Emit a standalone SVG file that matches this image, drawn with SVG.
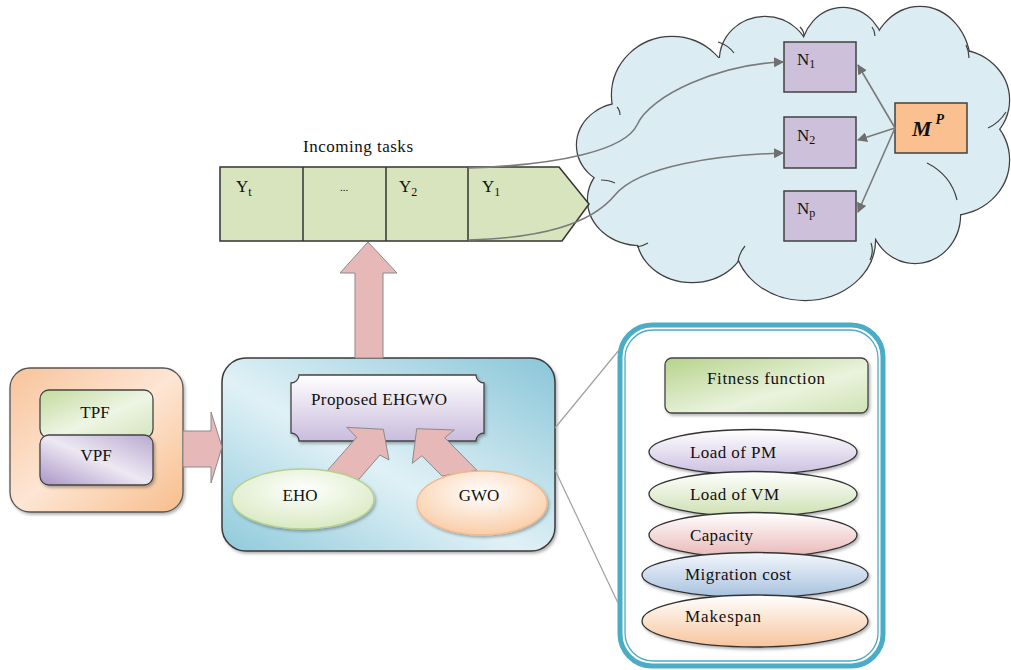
<svg xmlns="http://www.w3.org/2000/svg" width="1011" height="670" viewBox="0 0 1011 670" font-family="Liberation Serif, Times New Roman, serif">
<style>
text{font-family:"Liberation Serif","DejaVu Serif",serif;fill:#111;}
.lbl{font-size:17px;}
.blk{fill:#e6b9b8;stroke:#8a8a8a;stroke-width:1;}
.nbox{fill:#ccc0da;stroke:#404040;stroke-width:1.5;}
.conn{fill:none;stroke:#7a7a7a;stroke-width:1.6;}
.thin{fill:none;stroke:#a0a0a0;stroke-width:1.2;}
.lobeS{fill:#dbedf3;stroke:#404040;stroke-width:2.4;}
.lobeF{fill:#dbedf3;stroke:none;}
.curl{fill:none;stroke:#404040;stroke-width:1.2;}
.ell{stroke:#333;stroke-width:1.3;}
</style>
<defs>
<marker id="ah2" viewBox="0 0 10 10" refX="9" refY="5" markerWidth="10" markerHeight="10" orient="auto" markerUnits="userSpaceOnUse">
<path d="M0,0 L10,5 L0,10 z" fill="#6f6f6f"/>
</marker>
<linearGradient id="gOrange" x1="0" y1="0" x2="1" y2="1">
<stop offset="0" stop-color="#f8c39a"/><stop offset="0.5" stop-color="#fde6d4"/><stop offset="1" stop-color="#f8bd8c"/>
</linearGradient>
<linearGradient id="gTPF" x1="0" y1="0" x2="1" y2="1">
<stop offset="0" stop-color="#c3dba0"/><stop offset="0.55" stop-color="#eef5e4"/><stop offset="1" stop-color="#d3e5bc"/>
</linearGradient>
<linearGradient id="gVPF" x1="0" y1="1" x2="1" y2="0">
<stop offset="0" stop-color="#a996c6"/><stop offset="0.5" stop-color="#ede8f3"/><stop offset="1" stop-color="#b8a9d0"/>
</linearGradient>
<linearGradient id="gBlue" x1="0" y1="1" x2="1" y2="0">
<stop offset="0" stop-color="#8fcadb"/><stop offset="0.45" stop-color="#e0f1f6"/><stop offset="1" stop-color="#8ac6d8"/>
</linearGradient>
<linearGradient id="gPlaque" x1="0" y1="0" x2="0" y2="1">
<stop offset="0" stop-color="#ffffff"/><stop offset="1" stop-color="#c9bcdd"/>
</linearGradient>
<radialGradient id="gEHO" cx="0.5" cy="0.35" r="0.7">
<stop offset="0" stop-color="#ffffff"/><stop offset="1" stop-color="#d6e8bd"/>
</radialGradient>
<radialGradient id="gGWO" cx="0.5" cy="0.35" r="0.7">
<stop offset="0" stop-color="#ffffff"/><stop offset="1" stop-color="#f9c9a0"/>
</radialGradient>
<linearGradient id="gFit" x1="0" y1="0" x2="1" y2="1">
<stop offset="0" stop-color="#b6d38c"/><stop offset="0.6" stop-color="#eaf3dd"/><stop offset="1" stop-color="#cfe3b3"/>
</linearGradient>
<linearGradient id="gPM" x1="0" y1="0" x2="0" y2="1"><stop offset="0" stop-color="#ffffff"/><stop offset="1" stop-color="#cbbfe0"/></linearGradient>
<linearGradient id="gVM" x1="0" y1="0" x2="0" y2="1"><stop offset="0" stop-color="#ffffff"/><stop offset="1" stop-color="#cde0b1"/></linearGradient>
<linearGradient id="gCap" x1="0" y1="0" x2="0" y2="1"><stop offset="0" stop-color="#ffffff"/><stop offset="1" stop-color="#e9b7b6"/></linearGradient>
<linearGradient id="gMig" x1="0" y1="0" x2="0" y2="1"><stop offset="0" stop-color="#f4f7fb"/><stop offset="1" stop-color="#a7c1df"/></linearGradient>
<linearGradient id="gMak" x1="0" y1="0" x2="0" y2="1"><stop offset="0" stop-color="#ffffff"/><stop offset="1" stop-color="#f7c49b"/></linearGradient>
<filter id="sh" x="-10%" y="-10%" width="125%" height="130%">
<feDropShadow dx="1.5" dy="2" stdDeviation="1.5" flood-color="#000" flood-opacity="0.3"/>
</filter>
</defs>

<!-- Cloud -->
<g id="cloud">
<ellipse class="lobeS" cx="672" cy="95" rx="60" ry="58"/>
<ellipse class="lobeS" cx="765" cy="60" rx="45" ry="43"/>
<ellipse class="lobeS" cx="843" cy="55" rx="42" ry="47"/>
<ellipse class="lobeS" cx="920" cy="65" rx="50" ry="58"/>
<ellipse class="lobeS" cx="955" cy="100" rx="54" ry="50"/>
<ellipse class="lobeS" cx="950" cy="160" rx="59" ry="55"/>
<ellipse class="lobeS" cx="915" cy="215" rx="45" ry="48"/>
<ellipse class="lobeS" cx="805" cy="240" rx="70" ry="60"/>
<ellipse class="lobeS" cx="692" cy="235" rx="55" ry="47"/>
<ellipse class="lobeS" cx="640" cy="200" rx="52" ry="45"/>
<ellipse class="lobeS" cx="625" cy="145" rx="48" ry="42"/>
<ellipse class="lobeF" cx="672" cy="95" rx="60" ry="58"/>
<ellipse class="lobeF" cx="765" cy="60" rx="45" ry="43"/>
<ellipse class="lobeF" cx="843" cy="55" rx="42" ry="47"/>
<ellipse class="lobeF" cx="920" cy="65" rx="50" ry="58"/>
<ellipse class="lobeF" cx="955" cy="100" rx="54" ry="50"/>
<ellipse class="lobeF" cx="950" cy="160" rx="59" ry="55"/>
<ellipse class="lobeF" cx="915" cy="215" rx="45" ry="48"/>
<ellipse class="lobeF" cx="805" cy="240" rx="70" ry="60"/>
<ellipse class="lobeF" cx="692" cy="235" rx="55" ry="47"/>
<ellipse class="lobeF" cx="640" cy="200" rx="52" ry="45"/>
<ellipse class="lobeF" cx="625" cy="145" rx="48" ry="42"/>
<ellipse class="lobeF" cx="790" cy="150" rx="180" ry="100"/>
<path class="curl" d="M718,42 Q728,45 734,53"/>
<path class="curl" d="M800,27 Q804,31 804,36"/>
<path class="curl" d="M872,27 Q875,31 875,36"/>
<path class="curl" d="M966,45 Q969,51 969,58"/>
<path class="curl" d="M1006,112 Q999,123 988,128"/>
<path class="curl" d="M927,163 Q951,175 957,200"/>
<path class="curl" d="M871,243 Q874,252 870,260"/>
<path class="curl" d="M738,262 Q739,253 745,246"/>
<path class="curl" d="M637,247 Q643,246 648,243"/>
<path class="curl" d="M601,180 Q609,180 615,183"/>
<path class="curl" d="M617,107 Q620,110 620,115"/>
</g>

<!-- Queue -->
<g id="queue">
<path d="M220,167 H559 L589,204 L562,241 H220 Z" fill="#d7e4bd" stroke="#333" stroke-width="1.5"/>
<line x1="303" y1="167" x2="303" y2="241" stroke="#333" stroke-width="1.5"/>
<line x1="386" y1="167" x2="386" y2="241" stroke="#333" stroke-width="1.5"/>
<line x1="468" y1="167" x2="468" y2="241" stroke="#333" stroke-width="1.5"/>
<text x="358" y="152" class="lbl" text-anchor="middle" textLength="110" lengthAdjust="spacing">Incoming tasks</text>
<text x="236" y="192" class="lbl">Y<tspan font-size="12" dy="4">t</tspan></text>
<text x="344" y="191" font-size="11" text-anchor="middle">...</text>
<text x="399" y="192" class="lbl">Y<tspan font-size="12" dy="4">2</tspan></text>
<text x="482" y="192" class="lbl">Y<tspan font-size="12" dy="4">1</tspan></text>
</g>

<!-- Cloud nodes -->
<g id="n1"><rect class="nbox" x="784" y="42" width="72" height="50"/><text x="797" y="65" class="lbl">N<tspan font-size="12" dy="3">1</tspan></text></g>
<g id="n2"><rect class="nbox" x="784" y="117" width="72" height="51"/><text x="797" y="141" class="lbl">N<tspan font-size="12" dy="3">2</tspan></text></g>
<g id="np"><rect class="nbox" x="784" y="191" width="72" height="50"/><text x="797" y="214" class="lbl">N<tspan font-size="12" dy="3">p</tspan></text></g>
<g id="mp"><rect x="895" y="103" width="72" height="50" fill="#fac090" stroke="#404040" stroke-width="1.5"/><text x="912" y="136" font-size="22" font-weight="bold" font-style="italic">M<tspan font-size="14" dx="4" dy="-12">P</tspan></text></g>

<!-- Left source box -->
<g id="source">
<rect x="10" y="368" width="173" height="144" rx="20" fill="url(#gOrange)" stroke="#555" stroke-width="1.3" filter="url(#sh)"/>
</g>
<g id="tpf"><rect x="40" y="390" width="113" height="48" rx="9" fill="url(#gTPF)" stroke="#444" stroke-width="1.3"/><text x="95" y="418" class="lbl" text-anchor="middle">TPF</text></g>
<g id="vpf"><rect x="40" y="435" width="113" height="50" rx="9" fill="url(#gVPF)" stroke="#444" stroke-width="1.3" filter="url(#sh)"/><text x="96" y="461" class="lbl" text-anchor="middle">VPF</text></g>

<!-- Main block -->
<g id="main">
<rect x="222" y="358" width="333" height="193" rx="24" fill="url(#gBlue)" stroke="#3a3a3a" stroke-width="1.5" filter="url(#sh)"/>
</g>

<!-- Block arrows -->
<g id="blockarrows">
<path class="blk" d="M355,358 V273 H340 L368,242 L397,273 H383 V358 Z"/>
<path class="blk" d="M183,431 H211 V412 L222,447 L211,483 V467 H183 Z"/>
</g>

<g id="plaque">
<path d="M299,375 H476 A8,8 0 0 0 484,383 V433 A8,8 0 0 0 476,441 H299 A8,8 0 0 0 291,433 V383 A8,8 0 0 0 299,375 Z" fill="url(#gPlaque)" stroke="#444" stroke-width="1.3" filter="url(#sh)"/>
<text x="379" y="405" class="lbl" text-anchor="middle" textLength="136" lengthAdjust="spacing">Proposed EHGWO</text>
</g>
<g id="innerarrows">
<path class="blk" d="M320,479 L356.7,437.3 L346.7,427.3 L383.3,429.3 L389,460 L380,455 L351.7,487.5 Z"/>
<path class="blk" d="M442,476 L421.9,455.7 L412.3,463.3 L416.7,428.7 L454.3,430 L444.7,437.7 L477,470.3 Z"/>
</g>

<g id="eho"><ellipse cx="303" cy="499" rx="71" ry="30" fill="url(#gEHO)" stroke="#b5d08e" stroke-width="1.3" filter="url(#sh)"/><text x="300" y="501" class="lbl" text-anchor="middle">EHO</text></g>
<g id="gwo"><ellipse cx="482" cy="503" rx="65" ry="32" fill="url(#gGWO)" stroke="#f2b98c" stroke-width="1.3" filter="url(#sh)"/><text x="479" y="501" class="lbl" text-anchor="middle">GWO</text></g>

<!-- Right panel -->
<g id="panel">
<rect x="620" y="325" width="263" height="341" rx="32" fill="#fff" stroke="#4bacc6" stroke-width="5"/>
<rect x="625" y="330" width="253" height="331" rx="28" fill="none" stroke="#4bacc6" stroke-width="1.3"/>
</g>
<g id="fitness"><rect x="665" y="358" width="203" height="55" rx="7" fill="url(#gFit)" stroke="#444" stroke-width="1.3" filter="url(#sh)"/><text x="766" y="384" class="lbl" text-anchor="middle" textLength="118" lengthAdjust="spacing">Fitness function</text></g>
<g id="pm"><ellipse class="ell" cx="753" cy="452" rx="104" ry="22.5" fill="url(#gPM)" filter="url(#sh)"/><text x="690" y="458" class="lbl" textLength="86" lengthAdjust="spacing">Load of PM</text></g>
<g id="vm"><ellipse class="ell" cx="753" cy="494" rx="104" ry="22.5" fill="url(#gVM)" filter="url(#sh)"/><text x="690" y="500" class="lbl" textLength="89" lengthAdjust="spacing">Load of VM</text></g>
<g id="cap"><ellipse class="ell" cx="753" cy="535" rx="104" ry="22.5" fill="url(#gCap)" filter="url(#sh)"/><text x="690" y="541" class="lbl" textLength="63" lengthAdjust="spacing">Capacity</text></g>
<g id="mig"><ellipse class="ell" cx="755" cy="575" rx="113" ry="22.5" fill="url(#gMig)" filter="url(#sh)"/><text x="685" y="580" class="lbl" textLength="106" lengthAdjust="spacing">Migration cost</text></g>
<g id="mak"><ellipse class="ell" cx="755" cy="621" rx="113" ry="26" fill="url(#gMak)" filter="url(#sh)"/><text x="685" y="622" class="lbl" textLength="76" lengthAdjust="spacing">Makespan</text></g>

<!-- Connectors -->
<g id="connectors">
<path class="conn" d="M468,168 C560,165 625,150 637,125 C650,95 720,64 783,62" marker-end="url(#ah2)"/>
<path class="conn" d="M468,240 C540,238 590,225 615,195 C640,165 720,155 783,153" marker-end="url(#ah2)"/>
<line class="conn" x1="895" y1="128" x2="858" y2="65" marker-end="url(#ah2)"/>
<line class="conn" x1="895" y1="128" x2="858" y2="140" marker-end="url(#ah2)"/>
<line class="conn" x1="895" y1="128" x2="858" y2="212" marker-end="url(#ah2)"/>
<line class="thin" x1="555" y1="428" x2="619" y2="350"/>
<line class="thin" x1="555" y1="470" x2="618" y2="603"/>
</g>
</svg>
